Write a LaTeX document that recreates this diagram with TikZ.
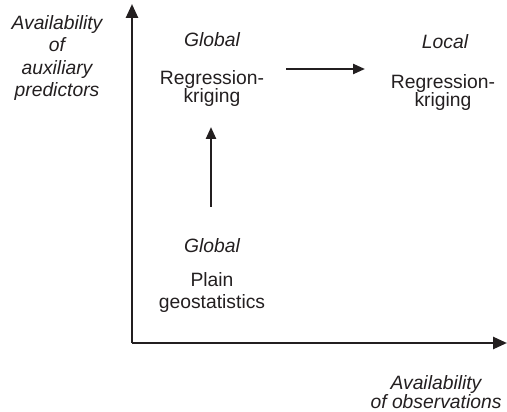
\documentclass[tikz,border=0pt]{standalone}
\usepackage{fontspec}
\setmainfont{Liberation Sans}
\usetikzlibrary{arrows.meta}
\definecolor{ink}{RGB}{35,31,32}
\tikzset{
  lbl/.style={inner sep=0pt, align=center, anchor=base, text=ink, font=\fontsize{19.3}{22.5}\selectfont},
  lbltight/.style={lbl, font=\fontsize{19.3}{18}\selectfont},
  axis/.style={draw=ink, line width=2.5pt, -{Triangle[length=14pt,width=12pt]}},
  arr/.style={draw=ink, line width=2.3pt, -{Triangle[length=12pt,width=10pt]}}
}
\begin{document}
\begin{tikzpicture}[x=1pt,y=-1pt]
\useasboundingbox (0,0) rectangle (507,412);
% axes
\coordinate (o) at (132,343);
\coordinate (ytip) at (132,4);
\coordinate (xtip) at (507,343);
\draw[axis] (o) -- (ytip);
\draw[axis] (o) -- (xtip);
% axis labels
\node[lbl] (ylab) at (57,97) {\itshape Availability\\ \itshape of\\ \itshape auxiliary\\ \itshape predictors};
\node[lbl, font=\fontsize{19.3}{16}\selectfont] (xlab) at (436,408) {\itshape Availability\\ \itshape of observations};
% blocks
\node[lbl] (g1) at (212,47) {\itshape Global};
\node[lbltight] (rk1) at (212,103) {Regression-\\kriging};
\node[lbl] (l2) at (445,49) {\itshape Local};
\node[lbltight] (rk2) at (443,107) {Regression-\\kriging};
\node[lbl] (g0) at (212,252) {\itshape Global};
\node[lbl, font=\fontsize{19.3}{21}\selectfont] (pg) at (212,308) {Plain\\geostatistics};
% arrows
\coordinate (a1s) at (286,69);
\coordinate (a1e) at (365,69);
\coordinate (a2s) at (211,207);
\coordinate (a2e) at (211,127);
\draw[arr] (a1s) -- (a1e);
\draw[arr] (a2s) -- (a2e);
\end{tikzpicture}
\end{document}
